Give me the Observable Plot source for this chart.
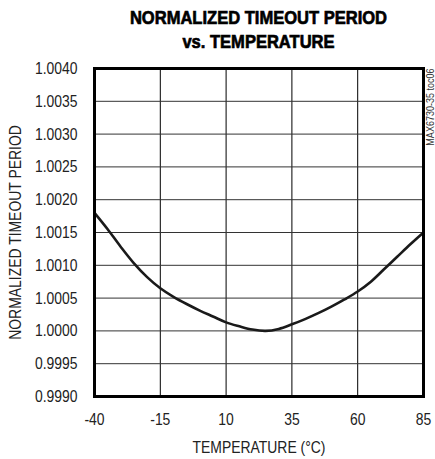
<!DOCTYPE html>
<html>
<head>
<meta charset="utf-8">
<script src="https://cdn.jsdelivr.net/npm/d3@7"></script>
<script src="https://cdn.jsdelivr.net/npm/@observablehq/plot@0.6"></script>
<style>
  html, body { margin: 0; padding: 0; background: #fff; }
  #wrap { position: relative; width: 435px; height: 459px; }
  #title {
    position: absolute; left: 94px; width: 329px; top: 6px;
    text-align: center;
    font-family: "Liberation Sans", Arial, sans-serif;
    font-weight: bold; font-size: 19px; line-height: 24px; color: #000;
    -webkit-text-stroke: 0.7px #000;
    transform: scaleX(0.87); transform-origin: center top;
    white-space: nowrap;
  }
  #chart { position: absolute; left: 0; top: 44px; }
  #chart svg { background: transparent; }
</style>
</head>
<body>
<div id="wrap">
  <div id="title">NORMALIZED TIMEOUT PERIOD<br>vs. TEMPERATURE</div>
  <div id="chart"></div>
</div>
<script>
const temperature = [-40, -35, -30, -25, -20, -15, -10, -5, 0, 5, 10, 15, 20, 25, 30, 35, 40, 45, 50, 55, 60, 65, 70, 75, 80, 85];
const normalizedPeriod = [1.00180, 1.00155, 1.00128, 1.00103, 1.00082, 1.00065, 1.00052, 1.00041, 1.00031, 1.00022, 1.00013, 1.00007, 1.00002, 1.00000, 1.00003, 1.00010, 1.00018, 1.00027, 1.00037, 1.00048, 1.00060, 1.00075, 1.00094, 1.00113, 1.00132, 1.00150];
const xTicks = [-40, -15, 10, 35, 60, 85];
const yTicks = [0.9990, 0.9995, 1.0000, 1.0005, 1.0010, 1.0015, 1.0020, 1.0025, 1.0030, 1.0035, 1.0040];
const xLabel = "TEMPERATURE (°C)";
const yLabel = "NORMALIZED TIMEOUT PERIOD";
const sideNote = "MAX6730-35 toc06";

const data = temperature.map((t, i) => ({t, v: normalizedPeriod[i]}));
const font = '"Liberation Sans", Arial, sans-serif';

const chart = Plot.plot({
  width: 435,
  height: 415,
  marginLeft: 94,
  marginRight: 12,
  marginTop: 24,
  marginBottom: 63,
  style: {fontFamily: font, fontSize: "17px", color: "#222", background: "transparent"},
  x: {domain: [-40, 85]},
  y: {domain: [0.999, 1.004]},
  marks: [
    Plot.gridX(xTicks, {stroke: "#000", strokeOpacity: 1, strokeWidth: 1}),
    Plot.gridY(yTicks, {stroke: "#333", strokeOpacity: 1, strokeWidth: 1}),
    Plot.axisX(xTicks, {tickSize: 0, tickPadding: 16, tickFormat: d => String(d),
      label: xLabel, labelAnchor: "center", labelArrow: "none", labelOffset: 56, fontSize: 17}),
    Plot.axisY(yTicks, {tickSize: 0, tickPadding: 17, tickFormat: d3.format(".4f"),
      label: yLabel, labelAnchor: "center", labelArrow: "none", labelOffset: 86, fontSize: 17}),
    Plot.line(data, {x: "t", y: "v", curve: "catmull-rom", stroke: "#1a1a1a", strokeWidth: 2.6}),
    Plot.frame({stroke: "#000", strokeWidth: 3}),
    Plot.text([sideNote], {frameAnchor: "top-right", text: d => d, rotate: -90, textAnchor: "end",
      dx: 7, dy: 0, fontSize: 11, fill: "#333", lineAnchor: "middle"})
  ]
});

// Narrow (condensed) look for chart texts, like the original's Helvetica Narrow:
// scale horizontally along the text direction about each text's own anchor point.
chart.querySelectorAll("text").forEach(t => {
  const xa = t.getAttribute("x");
  const x = xa && /^-?[\d.]+$/.test(xa) ? +xa : 0;
  const tr = t.getAttribute("transform") || "";
  t.setAttribute("transform", `${tr} translate(${x},0) scale(0.82,1) translate(${-x},0)`);
});
document.getElementById("chart").appendChild(chart);
</script>
</body>
</html>
